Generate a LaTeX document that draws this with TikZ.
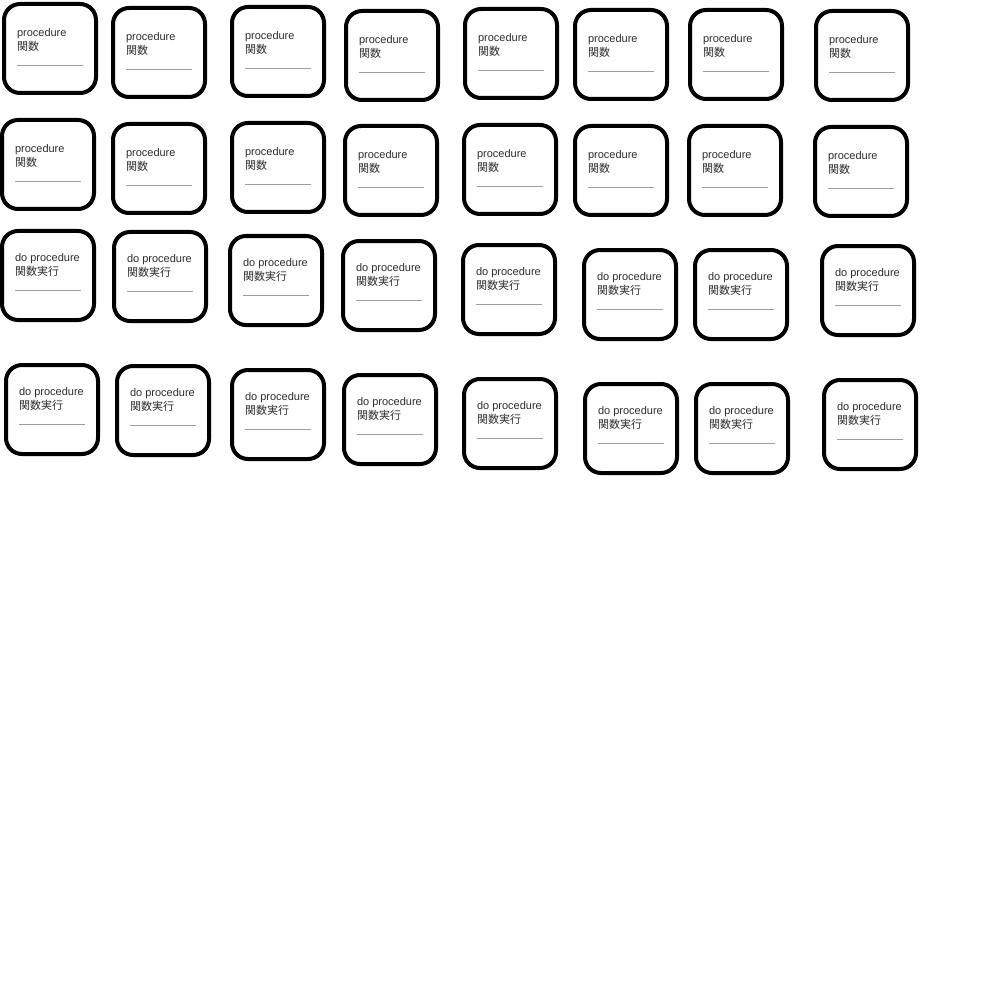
\documentclass[tikz,border=0pt]{standalone}
\usepackage{fontspec}
\setmainfont{Liberation Sans}
\newfontfamily\cjk{Noto Sans CJK JP}
\begin{document}
\begin{tikzpicture}[x=1pt,y=-1pt,
  procbox/.style={draw=black, line width=4pt, fill=white, rounded corners=16pt,
    minimum width=92pt, minimum height=89pt, inner sep=0pt, outer sep=0pt},
  txt/.style={inner sep=0pt, outer sep=0pt, text=black!82, font=\fontsize{11}{13}\selectfont, anchor=base west},
  rule/.style={draw=black!38, line width=1pt}]
\useasboundingbox (0,0) rectangle (1000,1000);
\fill[white] (0,0) rectangle (1000,1000);
% procedure boxes (rows 1-2)
\foreach \l/\t [count=\i] in {2/2,111/6,230/5,344/9,463/7,573/8,688/8,814/9,
  0/118,111/122,230/121,343/124,462/123,573/124,687/124,813/125} {
  \node[procbox] (p\i) at (\l+48,\t+46.5) {};
  \node[txt] (p\i a) at (\l+15,\t+34.5) {procedure};
  \node[txt] (p\i b) at (\l+15,\t+48.5) {\cjk 関数};
  \coordinate (p\i l) at (\l+15,\t+64);
  \coordinate (p\i r) at (\l+81,\t+64);
  \draw[rule] (p\i l) -- (p\i r);
}
% do procedure boxes (rows 3-4)
\foreach \l/\t [count=\i] in {0/229,112/230,228/234,341/239,461/243,582/248,693/248,820/244,
  4/363,115/364,230/368,342/373,462/377,583/382,694/382,822/378} {
  \node[procbox] (d\i) at (\l+48,\t+46.5) {};
  \node[txt] (d\i a) at (\l+15,\t+32) {do procedure};
  \node[txt] (d\i b) at (\l+15,\t+46) {\cjk 関数実行};
  \coordinate (d\i l) at (\l+15,\t+61);
  \coordinate (d\i r) at (\l+81,\t+61);
  \draw[rule] (d\i l) -- (d\i r);
}
\end{tikzpicture}
\end{document}
